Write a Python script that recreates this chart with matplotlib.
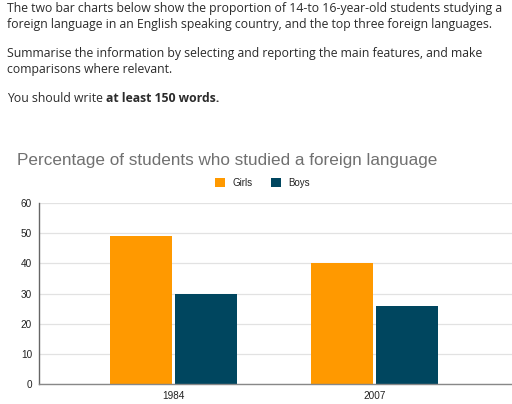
import matplotlib
matplotlib.use("Agg")
import matplotlib.pyplot as plt
import numpy as np

# chart data
years = ["1984", "2007"]
girls = [49, 40]
boys = [30, 26]
series_names = ["Girls", "Boys"]
y_ticks = [0, 10, 20, 30, 40, 50, 60]

header_lines = [
    (8.3, "The two bar charts below show the proportion of 14-to 16-year-old students studying a"),
    (24.3, "foreign language in an English speaking country, and the top three foreign languages."),
    (53.0, "Summarise the information by selecting and reporting the main features, and make"),
    (70.0, "comparisons where relevant."),
]

ORANGE = "#FF9900"
NAVY = "#00465F"

W, H = 512, 404
fig = plt.figure(figsize=(W / 100, H / 100), dpi=100)
fig.patch.set_facecolor("white")

# instruction text above the chart
hdr_font = "Open Sans"
hdr_size = 8.8
for y, txt in header_lines:
    fig.text(7 / W, 1 - y / H, txt, fontsize=hdr_size, family=hdr_font, color="#2b2b2b",
             ha="left", va="center")
t = fig.text(7 / W, 1 - 99 / H, "You should write ", fontsize=hdr_size, family=hdr_font,
             color="#2b2b2b", ha="left", va="center")
fig.canvas.draw()
bb = t.get_window_extent()
fig.text(bb.x1 / W, 1 - 99 / H, "at least 150 words.", fontsize=hdr_size, family=hdr_font,
         weight="bold", color="#2b2b2b", ha="left", va="center")

# chart title
fig.text(17 / W, 1 - 160.7 / H, "Percentage of students who studied a foreign language",
         fontsize=12.3, family="Liberation Sans", color="#707070", ha="left", va="center")

ax = fig.add_axes([39 / W, 20.3 / H, 1 - 39 / W, 180.4 / H])
x = np.arange(len(years))
bw = 0.312
off = 0.162
b1 = ax.bar(x - off, girls, bw, color=ORANGE, zorder=3, label=series_names[0])
b2 = ax.bar(x + off, boys, bw, color=NAVY, zorder=3, label=series_names[1])

ax.set_xlim(-0.67, 1.685)
ax.set_ylim(0, 60)
ax.set_yticks(y_ticks)
ax.set_xticks(x)
ax.set_xticklabels(years)
ax.tick_params(length=0, labelsize=7.2, labelcolor="#222222", pad=5)
for lab in ax.get_xticklabels() + ax.get_yticklabels():
    lab.set_family("Liberation Sans")
ax.grid(axis="y", color="#e2e2e2", lw=0.9, zorder=0)
for s in ["top", "right"]:
    ax.spines[s].set_visible(False)
ax.spines["left"].set_color("#666666")
ax.spines["left"].set_linewidth(1.0)
ax.spines["bottom"].set_color("#888888")
ax.spines["bottom"].set_linewidth(1.0)
ax.spines["bottom"].set_zorder(4)

fig.legend(handles=[b1, b2], labels=series_names, loc="center",
           bbox_to_anchor=(262.5 / W, 1 - 182.7 / H), ncol=2, frameon=False,
           prop={"family": "Liberation Sans", "size": 7}, labelcolor="#222222",
           handlelength=1.0, handleheight=1.0, handletextpad=0.8, columnspacing=1.9)

fig.savefig("out.png", dpi=100)
